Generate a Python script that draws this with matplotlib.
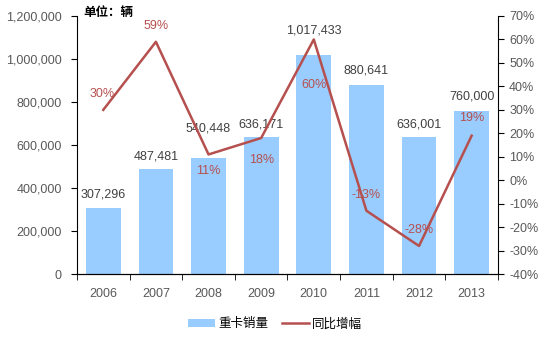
import numpy as np
import matplotlib.pyplot as plt
from matplotlib.ticker import FuncFormatter

plt.rcParams['font.family'] = ['Liberation Sans', 'Noto Sans CJK SC', 'DejaVu Sans']

years = ['2006', '2007', '2008', '2009', '2010', '2011', '2012', '2013']
sales = [307296, 487481, 540448, 636171, 1017433, 880641, 636001, 760000]
growth = [30, 59, 11, 18, 60, -13, -28, 19]
# vertical offsets (points) of the sales labels above the bar tops
sales_offsets = [9.5, 9.5, 21, 9.5, 18, 10, 9.5, 10]
# label offsets in points (dx, dy) for the growth labels
growth_offsets = [(-1, 11.5), (0, 11.5), (0, -12), (0, -16), (0, -33), (0, 11.5), (0, 11.5), (0, 13)]

bar_color = '#99CCFF'
line_color = '#B5504F'
tick_color = '#595959'
fs = 9

fig = plt.figure(figsize=(5.44, 3.38), dpi=100)
ax = fig.add_axes([0.1415, 0.189, 0.7739, 0.7637])
x = np.arange(len(years))

ax.bar(x, sales, width=0.66, color=bar_color, zorder=2, label='重卡销量')
ax.set_ylim(0, 1200000)
ax.set_xlim(-0.5, len(years) - 0.5)
ax.set_yticks(np.arange(0, 1200001, 200000))
ax.yaxis.set_major_formatter(FuncFormatter(lambda v, p: f'{int(v):,}'))
ax.set_xticks(x)
ax.set_xticklabels(years)
ax.set_xticks(np.arange(-0.5, len(years), 1), minor=True)
ax.tick_params(axis='x', which='major', length=0, pad=10, labelsize=fs, labelcolor=tick_color)
ax.tick_params(axis='x', which='minor', length=4, direction='out', color='black')
ax.tick_params(axis='y', length=4, direction='out', labelsize=fs, labelcolor=tick_color, pad=7)
ax.spines['top'].set_visible(False)
ax.spines['right'].set_visible(False)

for xi, v, dy in zip(x, sales, sales_offsets):
    ax.annotate(f'{v:,}', (xi, v), xytext=(0, dy), textcoords='offset points',
                ha='center', va='center', fontsize=fs, color='#404040', zorder=5)

ax2 = ax.twinx()
ax2.plot(x, growth, color=line_color, linewidth=1.8, zorder=3, label='同比增幅')
ax2.set_ylim(-40, 70)
ax2.set_yticks(np.arange(-40, 71, 10))
ax2.yaxis.set_major_formatter(FuncFormatter(lambda v, p: f'{int(v)}%'))
ax2.tick_params(axis='y', length=4, direction='out', labelsize=fs, labelcolor=tick_color, pad=4)
ax2.spines['top'].set_visible(False)
ax2.spines['left'].set_visible(False)

for xi, g, (dx, dy) in zip(x, growth, growth_offsets):
    ax2.annotate(f'{g}%', (xi, g), xytext=(dx, dy), textcoords='offset points',
                 ha='center', va='center', fontsize=fs, color=line_color, zorder=6)

fig.text(0.153, 0.962, '单位：辆', fontsize=fs, fontweight='bold', color='black',
         ha='left', va='center', family=['Noto Sans CJK SC', 'DejaVu Sans'])

h1, l1 = ax.get_legend_handles_labels()
h2, l2 = ax2.get_legend_handles_labels()
fig.legend(h1 + h2, l1 + l2, loc='center', bbox_to_anchor=(0.505, 0.042), ncol=2,
           frameon=False, handlelength=2.2, handleheight=0.55,
           columnspacing=1.1, handletextpad=0.2,
           prop={'family': ['Noto Sans CJK SC', 'DejaVu Sans'], 'size': fs})

fig.savefig('out.png', dpi=100)
